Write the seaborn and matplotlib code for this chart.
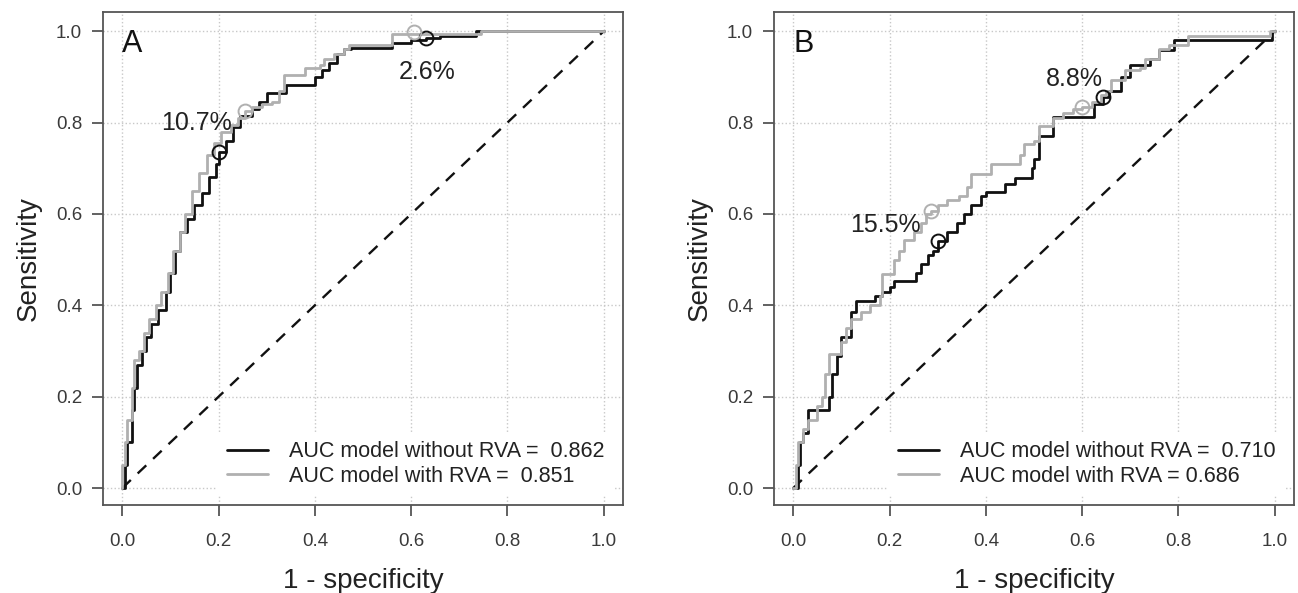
import matplotlib
matplotlib.use("Agg")
import matplotlib.pyplot as plt
import seaborn as sns
import pandas as pd

# -----------------------------
# ROC corner points (1 - specificity, sensitivity)
# -----------------------------
a_without_fpr = [0.0, 0.005, 0.01, 0.02, 0.025, 0.03, 0.04, 0.05, 0.06, 0.075, 0.09, 0.10, 0.11, 0.12,
                 0.135, 0.15, 0.165, 0.18, 0.195, 0.20, 0.215, 0.23, 0.245, 0.27, 0.285, 0.30, 0.325,
                 0.34, 0.39, 0.40, 0.415, 0.43, 0.445, 0.46, 0.475, 0.55, 0.56, 0.60, 0.63, 0.66,
                 0.72, 0.735, 1.0]
a_without_tpr = [0.0, 0.05, 0.10, 0.17, 0.22, 0.27, 0.30, 0.33, 0.36, 0.39, 0.43, 0.47, 0.52, 0.56,
                 0.59, 0.62, 0.645, 0.68, 0.71, 0.735, 0.76, 0.79, 0.815, 0.83, 0.845, 0.864, 0.864,
                 0.883, 0.883, 0.90, 0.915, 0.93, 0.95, 0.96, 0.963, 0.963, 0.975, 0.98, 0.985, 0.99,
                 0.99, 1.0, 1.0]
a_with_fpr = [0.0, 0.0, 0.005, 0.01, 0.02, 0.025, 0.035, 0.045, 0.055, 0.07, 0.08, 0.095, 0.105, 0.12,
              0.13, 0.145, 0.16, 0.175, 0.19, 0.205, 0.225, 0.24, 0.255, 0.27, 0.29, 0.31, 0.325,
              0.335, 0.37, 0.38, 0.41, 0.42, 0.44, 0.46, 0.47, 0.56, 0.605, 0.745, 1.0]
a_with_tpr = [0.0, 0.05, 0.10, 0.15, 0.22, 0.28, 0.30, 0.34, 0.37, 0.40, 0.43, 0.47, 0.52, 0.56,
              0.60, 0.65, 0.69, 0.73, 0.755, 0.78, 0.795, 0.81, 0.825, 0.835, 0.84, 0.845, 0.87,
              0.905, 0.905, 0.92, 0.925, 0.94, 0.95, 0.96, 0.97, 0.993, 0.993, 1.0, 1.0]

b_without_fpr = [0.0, 0.01, 0.015, 0.02, 0.03, 0.07, 0.075, 0.08, 0.09, 0.10, 0.12, 0.13, 0.17, 0.185,
                 0.20, 0.21, 0.255, 0.265, 0.28, 0.29, 0.30, 0.32, 0.34, 0.355, 0.37, 0.39, 0.40,
                 0.44, 0.46, 0.495, 0.50, 0.51, 0.535, 0.54, 0.61, 0.625, 0.643, 0.655, 0.68, 0.70,
                 0.74, 0.76, 0.79, 0.85, 0.995, 1.0]
b_without_tpr = [0.0, 0.05, 0.10, 0.12, 0.17, 0.17, 0.20, 0.25, 0.29, 0.33, 0.386, 0.41, 0.42, 0.43,
                 0.44, 0.453, 0.47, 0.49, 0.51, 0.52, 0.54, 0.56, 0.58, 0.60, 0.62, 0.64, 0.647,
                 0.665, 0.678, 0.70, 0.72, 0.771, 0.771, 0.812, 0.812, 0.84, 0.855, 0.87, 0.90, 0.926,
                 0.94, 0.959, 0.98, 0.98, 1.0, 1.0]
b_with_fpr = [0.0, 0.005, 0.01, 0.02, 0.03, 0.05, 0.06, 0.065, 0.075, 0.10, 0.11, 0.12, 0.14, 0.16,
              0.18, 0.185, 0.205, 0.21, 0.22, 0.23, 0.25, 0.265, 0.275, 0.287, 0.30, 0.32, 0.345,
              0.36, 0.37, 0.40, 0.41, 0.47, 0.48, 0.50, 0.51, 0.54, 0.56, 0.58, 0.60, 0.62, 0.64,
              0.65, 0.66, 0.68, 0.69, 0.72, 0.73, 0.76, 0.78, 0.82, 0.99, 1.0]
b_with_tpr = [0.0, 0.05, 0.10, 0.13, 0.15, 0.18, 0.20, 0.25, 0.294, 0.32, 0.35, 0.37, 0.385, 0.40,
              0.42, 0.469, 0.469, 0.50, 0.52, 0.543, 0.56, 0.58, 0.60, 0.607, 0.62, 0.63, 0.64,
              0.66, 0.688, 0.688, 0.709, 0.73, 0.753, 0.76, 0.792, 0.81, 0.82, 0.83, 0.833, 0.845,
              0.86, 0.87, 0.894, 0.894, 0.915, 0.92, 0.939, 0.96, 0.97, 0.99, 1.0, 1.0]

# optimal cut-off points (circles) and their labels
a_cut_without = ([0.20, 0.63], [0.735, 0.985])
a_cut_with = ([0.255, 0.605], [0.825, 0.998])
b_cut_without = ([0.30, 0.643], [0.54, 0.855])
b_cut_with = ([0.287, 0.60], [0.607, 0.833])

a_labels = [("10.7%", 0.228, 0.80), ("2.6%", 0.575, 0.91)]
b_labels = [("15.5%", 0.265, 0.575), ("8.8%", 0.525, 0.895)]

a_auc = ["AUC model without RVA =  0.862", "AUC model with RVA =  0.851"]
b_auc = ["AUC model without RVA =  0.710", "AUC model with RVA = 0.686"]

BLACK = "#111111"
GRAY = "#b0b0b0"
FRAME = "#555555"

sns.set_theme(style="white")
plt.rcParams["font.family"] = ["Liberation Sans", "DejaVu Sans"]

fig = plt.figure(figsize=(12.98, 5.93), dpi=100)
ax_a = fig.add_axes([103 / 1298, 88 / 593, 520 / 1298, 493 / 593])
ax_b = fig.add_axes([774 / 1298, 88 / 593, 520 / 1298, 493 / 593])


def draw_panel(ax, letter, curves, cuts, labels, auc_text):
    ticks = [0.0, 0.2, 0.4, 0.6, 0.8, 1.0]
    ax.set_xlim(-0.04, 1.04)
    ax.set_ylim(-0.037, 1.042)
    ax.set_xticks(ticks)
    ax.set_yticks(ticks)
    ax.set_xticklabels([f"{t:.1f}" for t in ticks])
    ax.set_yticklabels([f"{t:.1f}" for t in ticks])
    ax.grid(True, linestyle=":", color="#c8c8c8", linewidth=1.0)
    ax.set_axisbelow(True)
    for s in ax.spines.values():
        s.set_color(FRAME)
        s.set_linewidth(1.3)
    ax.tick_params(axis="both", direction="out", length=8, width=1.3, color=FRAME,
                   labelsize=13.5, labelcolor="#3a3a3a", left=True, bottom=True)
    ax.tick_params(axis="x", pad=12)
    ax.tick_params(axis="y", pad=7)

    # chance line
    ax.plot([0, 1], [0, 1], linestyle=(0, (5, 4)), color=BLACK, linewidth=1.7)

    for (fpr, tpr), col, lab in zip(curves, [BLACK, GRAY], auc_text):
        df = pd.DataFrame({"fpr": fpr, "tpr": tpr})
        sns.lineplot(data=df, x="fpr", y="tpr", ax=ax, color=col, linewidth=2.0,
                     drawstyle="steps-post", sort=False, estimator=None, label=lab)

    for (cx, cy), col in zip(cuts, [BLACK, GRAY]):
        ax.plot(cx, cy, linestyle="none", marker="o", markersize=10, markerfacecolor="none",
                markeredgecolor=col, markeredgewidth=1.4)

    for txt, x, y in labels:
        ax.text(x, y, txt, ha="right" if x < 0.4 else "left", va="center", fontsize=18,
                color="#222222")

    ax.text(0.0, 0.972, letter, ha="left", va="center", fontsize=22, color="#111111")

    leg = ax.legend(loc="lower right", frameon=True, fontsize=15.5, handlelength=1.9,
                    handletextpad=1.0, borderpad=0.45, labelspacing=0.15,
                    borderaxespad=0.4)
    leg.get_frame().set_facecolor("white")
    leg.get_frame().set_edgecolor("none")
    leg.get_frame().set_alpha(1.0)
    for t in leg.get_texts():
        t.set_color("#222222")

    ax.set_xlabel("1 - specificity", fontsize=20, color="#222222", labelpad=13)
    ax.set_ylabel("Sensitivity", fontsize=20, color="#222222", labelpad=10)


draw_panel(ax_a, "A", [(a_without_fpr, a_without_tpr), (a_with_fpr, a_with_tpr)],
           [a_cut_without, a_cut_with], a_labels, a_auc)
draw_panel(ax_b, "B", [(b_without_fpr, b_without_tpr), (b_with_fpr, b_with_tpr)],
           [b_cut_without, b_cut_with], b_labels, b_auc)

fig.savefig("out.png", dpi=100)
